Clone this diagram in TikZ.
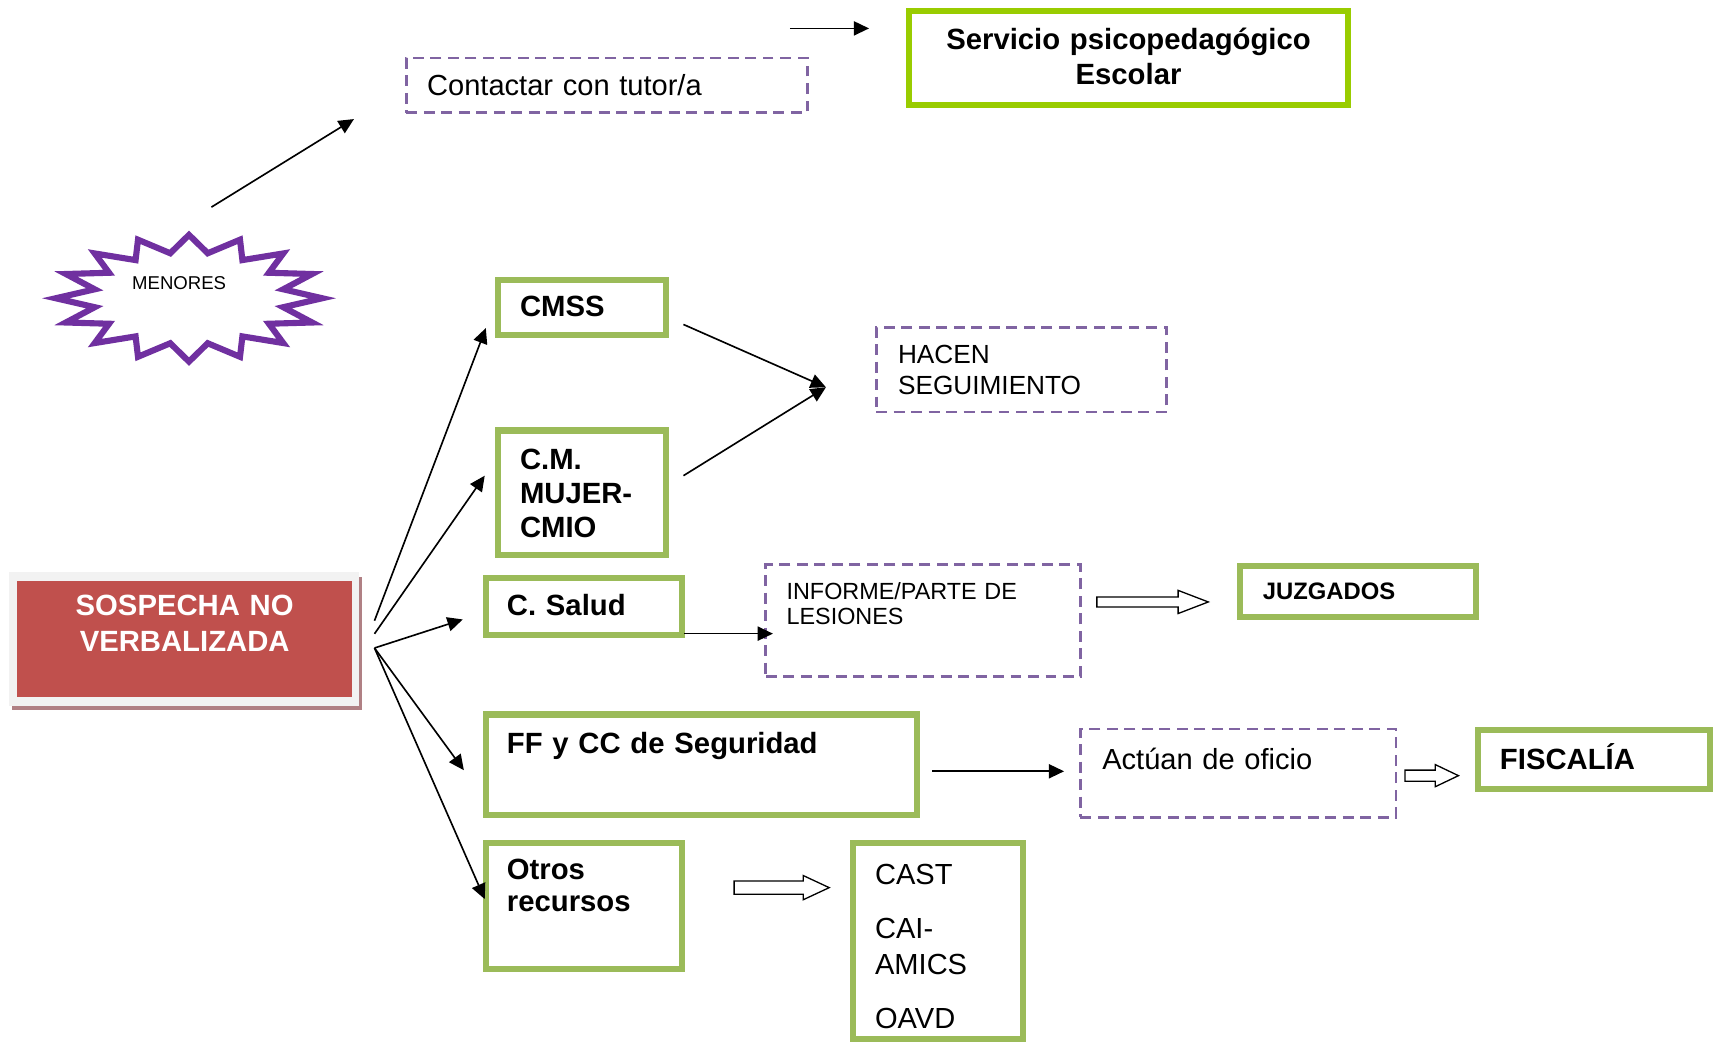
\documentclass[tikz,border=0pt]{standalone}
\usepackage{fontspec}
\setmainfont{Liberation Sans}
\usetikzlibrary{arrows.meta,shapes.arrows}

\definecolor{boxgreen}{RGB}{155,187,89}
\definecolor{limegreen}{RGB}{153,204,0}
\definecolor{dashpurple}{RGB}{128,100,162}
\definecolor{starpurple}{RGB}{112,48,160}
\definecolor{alertred}{RGB}{192,80,77}
\definecolor{framegray}{RGB}{242,242,242}
\definecolor{shadowpink}{RGB}{176,128,132}

\begin{document}
\begin{tikzpicture}[x=0.5pt,y=-0.5pt,
gbox/.style={draw=boxgreen, line width=2.8pt, anchor=north west, inner ysep=0pt, outer sep=0pt, align=left, font=\bfseries\fontsize{13.4}{15.5}\selectfont},
dbox/.style={draw=dashpurple, line width=1.25pt, dash pattern=on 5pt off 3pt, anchor=north west, inner ysep=0pt, outer sep=0pt, align=left, font=\fontsize{13.3}{15.5}\selectfont},
arr/.style={line width=0.75pt, -{Triangle[length=7pt,width=6.5pt]}},
blockarr/.style={single arrow, draw, line width=0.6pt, fill=white, inner sep=0pt, outer sep=0pt, anchor=tail}]
\useasboundingbox (0,0) rectangle (1568,953);

\fill[framegray] (8.5,524) rectangle (329,646);
\fill[shadowpink] (11,646) rectangle (331,650);
\fill[shadowpink] (329,528) rectangle (331,650);
\node[fill=alertred, text=white, anchor=north west, inner sep=0pt, text width=153.35pt, align=center, text height=15.75pt, text depth=37.5pt, font=\bfseries\fontsize{13.4}{16.5}\selectfont] (sosp) at (15.3,531.5) {SOSPECHA NO\\VERBALIZADA};

\draw[starpurple, line width=2.8pt, fill=white] plot[samples at={0,...,31}] ({173+ifthenelse(mod(\x,2)==0,122,88)*cos(\x*11.25)}, {273+ifthenelse(mod(\x,2)==0,58,42)*sin(\x*11.25)}) -- cycle;
\node[font=\fontsize{8.5}{10}\selectfont, inner sep=0pt] (menores) at (164,259) {MENORES};

\node[gbox, draw=limegreen, align=center, inner xsep=0pt, text width=201pt, text height=17.85pt, text depth=25.15pt, font=\bfseries\fontsize{13.4}{16}\selectfont] (serv) at (832,10) {Servicio psicopedagógico\\Escolar};
\node[dbox, inner xsep=9.5pt, text width=164.5pt, text height=17.4pt, text depth=7.6pt] (cont) at (372,53) {Contactar con tutor/a};
\node[gbox, inner xsep=10pt, text width=57pt, text height=17pt, text depth=8.5pt] (cmss) at (456,256) {CMSS};
\node[gbox, inner xsep=10pt, text width=57pt, text height=18pt, text depth=39pt] (cm) at (456,394) {C.M.\\MUJER-\\CMIO};
\node[gbox, inner xsep=9.5pt, text width=70.5pt, text height=17.35pt, text depth=8.65pt] (salud) at (445,529) {C. Salud};
\node[gbox, inner xsep=9.5pt, text width=178pt, text height=18pt, text depth=28pt] (ff) at (445,654) {FF y CC de Seguridad};
\node[gbox, inner xsep=9.5pt, text width=70.5pt, text height=16.35pt, text depth=41.15pt, font=\bfseries\fontsize{13.4}{14.65}\selectfont] (otros) at (445,772) {Otros\\recursos};
\node[gbox, inner xsep=10pt, text width=57.5pt, text height=18.8pt, text depth=70.7pt, font=\fontsize{13.3}{16.5}\selectfont] (cast) at (781,772) {CAST\\[8.25pt]CAI-\\AMICS\\[8.25pt]OAVD};
\node[gbox, inner xsep=10.5pt, text width=87pt, text height=15.2pt, text depth=8.3pt, font=\bfseries\fontsize{10.9}{13}\selectfont] (juz) at (1135,518) {JUZGADOS};
\node[gbox, inner xsep=10pt, text width=86.25pt, text height=18.4pt, text depth=8.85pt] (fisc) at (1353,668) {FISCALÍA};
\node[dbox, inner xsep=10pt, text width=113pt, text height=16.5pt, text depth=22pt, font=\fontsize{12}{14}\selectfont] (hacen) at (802,300) {HACEN\\SEGUIMIENTO};
\node[dbox, inner xsep=9.5pt, text width=125pt, text height=15.7pt, text depth=35.55pt, font=\fontsize{10.7}{11.8}\selectfont] (inf) at (701,517) {INFORME/PARTE DE\\LESIONES};
\node[dbox, inner xsep=10pt, text width=124.35pt, text height=18.3pt, text depth=22.1pt] (act) at (989,667.4) {Actúan de oficio};

\coordinate (top) at (723,26);
\draw[arr] (top) -- ([shift={(-36.5,-27)}]serv.west);
\draw[arr] ([shift={(29.5,-69.4)}]menores.center) -- ([shift={(-48,6)}]cont.south west);

\coordinate (f1) at ([shift={(20,-17)}]sosp.east);
\coordinate (f2) at ([shift={(20,-5)}]sosp.east);
\coordinate (f3) at ([shift={(20,8)}]sosp.east);
\draw[arr] (f1) -- ([shift={(-11.3,18.8)}]cmss.west);
\draw[arr] (f2) -- ([shift={(-12.3,-15.6)}]cm.west);
\foreach \dest/\dx/\dy in {salud/-21.4/12, ff/-20.4/5, otros/-1.3/-6.5}{
\draw[arr] (f3) -- ([shift={(\dx,\dy)}]\dest.west);
}
\draw[arr] ([shift={(15.6,15.5)}]cmss.east) -- ([shift={(-46,16)}]hacen.west);
\draw[arr] ([shift={(15.6,-15.6)}]cm.east) -- ([shift={(-46,16)}]hacen.west);
\draw[arr] ([shift={(2,-1)}]salud.south east) -- ([shift={(6.5,11.75)}]inf.west);
\draw[arr] ([shift={(14.4,6)}]ff.east) -- ([shift={(-15,-1.8)}]act.west);

\node[blockarr, minimum height=51pt, text height=2pt, text depth=2pt, single arrow head extend=3pt, single arrow tip angle=42] (ar1) at ([shift={(15,-17.25)}]inf.east) {};
\node[blockarr, minimum height=24.5pt, text height=2.25pt, text depth=2.25pt, single arrow head extend=2.5pt, single arrow tip angle=51] (ar2) at ([shift={(8.3,2.2)}]act.east) {};
\node[blockarr, minimum height=43.5pt, text height=2.75pt, text depth=2.75pt, single arrow head extend=2.5pt, single arrow tip angle=50] (ar3) at ([shift={(48,-17)}]otros.east) {};
\end{tikzpicture}
\end{document}
